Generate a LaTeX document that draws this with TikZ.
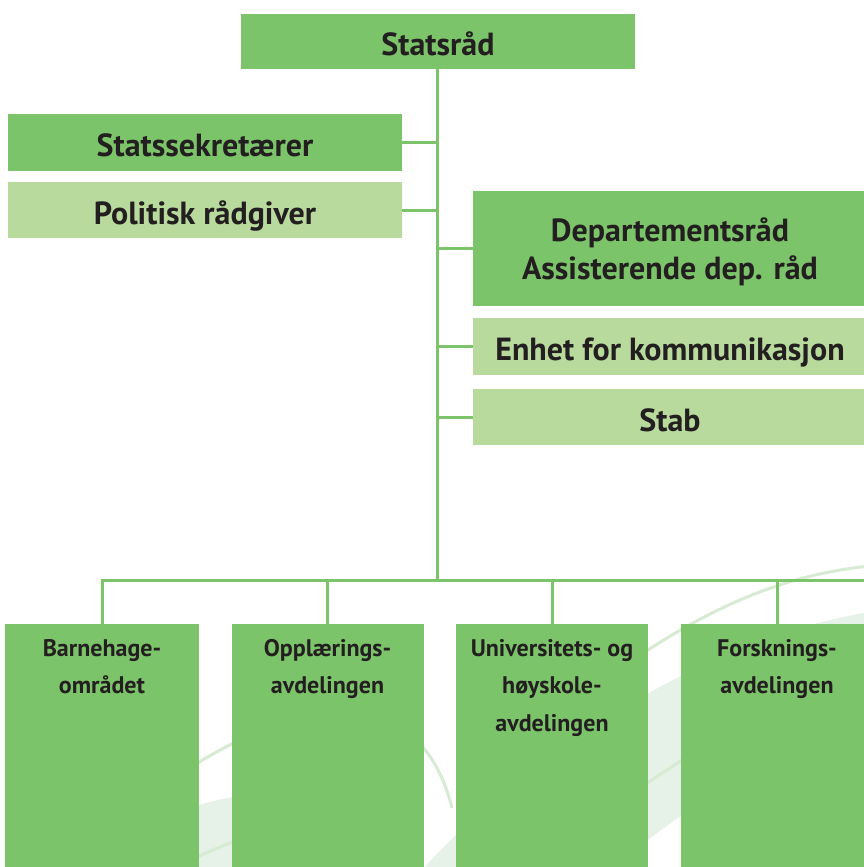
\documentclass[tikz,border=0pt]{standalone}
\usepackage{fontspec}
\setmainfont{PT Sans}
\definecolor{dg}{HTML}{7CC46A}
\definecolor{lg}{HTML}{B8DA9D}
\definecolor{txt}{HTML}{231F20}
\definecolor{wmline}{HTML}{D6EBD2}
\definecolor{wmfill}{HTML}{E6F2E7}
\tikzset{
  box/.style={rectangle, inner sep=0pt, text=txt, font=\bfseries\fontsize{32}{38}\selectfont, align=center, text depth=0pt},
  oneline/.style={text height=28pt},
  darkbox/.style={box, fill=dg},
  lightbox/.style={box, fill=lg},
  lowbox/.style={rectangle, inner sep=0pt, fill=dg, minimum width=192pt, minimum height=256pt},
  lowlabel/.style={anchor=north, align=center, text=txt, inner sep=0pt, font=\bfseries\fontsize{24}{37.5}\selectfont},
  conn/.style={draw=dg, line width=3pt},
  wml/.style={draw=wmline, line width=3pt},
}
\begin{document}
\begin{tikzpicture}[x=1pt,y=-1pt]
\useasboundingbox (0,0) rectangle (864,867);
\clip (0,0) rectangle (864,867);
\fill[white] (0,0) rectangle (864,867);
% watermark
\fill[wmfill] (180,867) -- (180,812) .. controls (260,780) and (330,790) .. (420,867) -- cycle;
\fill[wmfill] (425,867) .. controls (520,760) and (700,640) .. (870,612) -- (870,700) .. controls (780,760) and (700,790) .. (600,880) -- cycle;
\draw[wml] (150,795) .. controls (300,685) and (420,680) .. (452,808);
\draw[wml] (170,870) .. controls (200,855) and (215,849) .. (240,839);
\draw[wml] (600,815) .. controls (640,787) and (660,775) .. (700,748);
\draw[wml] (600,683) .. controls (700,610) and (780,575) .. (870,566);
% top nodes
\node[darkbox, oneline, minimum width=394pt, minimum height=55pt] (sr) at (438,41.5) {Statsråd};
\node[darkbox, oneline, minimum width=394pt, minimum height=57pt] (ss) at (205,142.5) {Statssekretærer};
\node[lightbox, oneline, minimum width=394pt, minimum height=56pt] (pr) at (205,210) {Politisk rådgiver};
\node[darkbox, minimum width=394pt, minimum height=115pt] (dr) at (670,248.5) {Departementsråd\\Assisterende dep. råd};
\node[lightbox, oneline, minimum width=394pt, minimum height=57pt] (ek) at (670,346.5) {Enhet for kommunikasjon};
\node[lightbox, oneline, minimum width=394pt, minimum height=56pt] (st) at (670,417) {Stab};
% bottom nodes
\node[lowbox, minimum width=194pt, label={[lowlabel, yshift=-15pt]90:{Barnehage-\\området}}] (b1) at (102,752) {};
\node[lowbox, label={[lowlabel, yshift=-15pt]90:{Opplærings-\\avdelingen}}] (b2) at (327.5,752) {};
\node[lowbox, label={[lowlabel, yshift=-15pt]90:{Universitets- og\\høyskole-\\avdelingen}}] (b3) at (552,752) {};
\node[lowbox, label={[lowlabel, yshift=-15pt]90:{Forsknings-\\avdelingen}}] (b4) at (777,752) {};
% connectors
\coordinate (busL) at (102,580);
\coordinate (busR) at (870,580);
\coordinate (trunk) at (437,580);
\draw[conn] (sr.south -| trunk) -- (trunk);
\draw[conn] (ss.east) -- (ss.east -| trunk);
\draw[conn] (pr.east) -- (pr.east -| trunk);
\draw[conn] (dr.west) -- (dr.west -| trunk);
\draw[conn] (ek.west) -- (ek.west -| trunk);
\draw[conn] (st.west) -- (st.west -| trunk);
\draw[conn] ([xshift=-1.5pt]busL) -- (busR);
\draw[conn] (b1.north) -- (b1.north |- busL);
\draw[conn] (b2.north) -- (b2.north |- busL);
\draw[conn] (b3.north) -- (b3.north |- busL);
\draw[conn] (b4.north) -- (b4.north |- busL);
\end{tikzpicture}
\end{document}
